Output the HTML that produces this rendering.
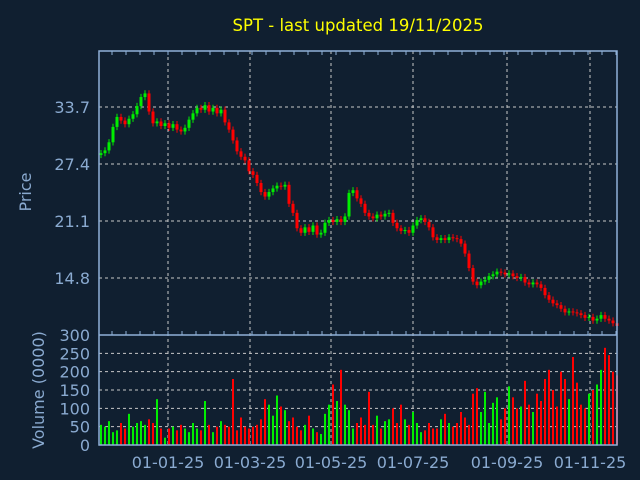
<!DOCTYPE html>
<html><head><meta charset="utf-8"><style>
html,body{margin:0;padding:0;background:#101f30;}
svg{display:block;font-family:"DejaVu Sans","Liberation Sans",sans-serif;}
</style></head><body>
<svg id="chart" width="640" height="480">
<rect x="0" y="0" width="640" height="480" fill="#101f30"/>
<text x="358" y="31" fill="#ffff00" font-size="16.5" text-anchor="middle">SPT - last updated 19/11/2025</text>
<text transform="translate(31,192) rotate(-90)" fill="#8aaad0" font-size="16" text-anchor="middle">Price</text>
<text transform="translate(44,390) rotate(-90)" fill="#8aaad0" font-size="16" text-anchor="middle">Volume (0000)</text>
<g id="grid"></g><g id="marks"></g><g id="axes"></g>
</svg>
<script>
const closes=[28.6,28.9,29.8,31.5,32.6,32.2,31.8,32.4,32.9,33.8,34.8,35.2,33.2,31.9,32.1,31.6,31.9,31.4,31.8,31.2,31.0,31.4,32.3,33.0,33.6,33.4,33.9,33.2,33.6,33.0,33.4,32.0,31.2,30.0,28.8,28.2,27.8,26.6,26.2,25.3,24.3,23.8,24.3,24.7,25.0,24.9,25.1,23.0,22.0,20.3,19.8,20.4,19.9,20.6,19.6,19.8,20.9,21.2,21.0,21.3,21.0,21.6,24.2,24.5,23.6,23.0,22.0,21.6,21.4,21.8,21.6,21.9,22.0,20.9,20.3,20.0,20.1,19.8,20.6,21.2,21.4,21.0,20.4,19.3,19.0,19.2,19.0,19.3,19.2,19.1,18.6,17.5,15.9,14.4,14.0,14.4,14.6,15.0,15.2,15.5,15.4,15.2,15.3,15.0,14.8,14.9,14.3,14.1,14.3,14.1,13.7,12.9,12.4,12.0,11.8,11.4,11.0,11.1,11.0,10.9,10.7,10.4,10.5,10.1,10.3,10.7,10.3,10.1,9.8,9.5];
const volumes=[55,50,65,35,40,60,45,85,50,60,65,55,70,60,125,45,20,45,50,40,55,45,35,60,45,40,120,55,35,50,65,
55,50,180,40,75,50,45,50,55,70,125,110,80,135,105,95,65,75,50,40,55,80,45,35,30,85,110,165,120,205,
110,95,45,60,75,55,145,55,80,45,65,70,100,60,110,70,55,90,60,35,40,60,45,45,70,85,60,50,60,90,
75,55,140,155,90,145,60,115,130,70,100,160,130,100,105,175,110,90,140,120,180,205,150,105,200,180,125,240,170,110,100,140,150,165,205,265,245,200,190];
const priceTicks=[14.8,21.1,27.4,33.7];
const volTicks=[0,50,100,150,200,250,300];
const dateLabels=["01-01-25","01-03-25","01-05-25","01-07-25","01-09-25","01-11-25"];
const dateIdx=[16.75,37.25,57.5,78,101.5,122.25];

const NS="http://www.w3.org/2000/svg";
const L=99,R=617,PT=51,PB=335,VB=445;
const xs=i=>101+i*4;
const py=p=>107+(33.7-p)/6.3*57;
const vy=v=>VB-v/300*(VB-PB);
function mk(tag,attrs,parent){const e=document.createElementNS(NS,tag);for(const k in attrs)e.setAttribute(k,attrs[k]);parent.appendChild(e);return e;}
const grid=document.getElementById('grid'),marks=document.getElementById('marks'),axes=document.getElementById('axes');
const AX="#8fb0d8",TX="#8aaad0",GR="#c8c8c8";

priceTicks.forEach(t=>{
 const g=mk('line',{x1:L,x2:R,y1:py(t),y2:py(t),stroke:GR,'stroke-dasharray':'3,3','stroke-width':1},grid);
 
 
 const tx=mk('text',{x:90,y:py(t)+6,fill:TX,'font-size':16,'text-anchor':'end'},axes);tx.textContent=t.toFixed(1);
 
 
});
volTicks.forEach(t=>{
 if(t>0&&t<300){const g=mk('line',{x1:L,x2:R,y1:vy(t),y2:vy(t),stroke:GR,'stroke-dasharray':'3,3'},grid);
 
 }
 const tx=mk('text',{x:90,y:vy(t)+6,fill:TX,'font-size':16,'text-anchor':'end'},axes);tx.textContent=t;
 
 
});
dateIdx.forEach((d,k)=>{
 const x=xs(d);
 const g=mk('line',{x1:x,x2:x,y1:PT,y2:VB,stroke:GR,'stroke-dasharray':'3,3'},grid);
 
 
 const tx=mk('text',{x:x,y:468,fill:TX,'font-size':16,'text-anchor':'middle'},axes);tx.textContent=dateLabels[k];
 
 
});
for(let x=112;x<R;x+=14){
 mk('line',{x1:x,x2:x,y1:PT,y2:PT+4,stroke:AX},axes);
 mk('line',{x1:x,x2:x,y1:PB,y2:PB-4,stroke:AX},axes);
}
for(let i=0;i<closes.length;i++){
 const c=closes[i],o=i>0?closes[i-1]:c-0.2;
 const up=c>=o,col=up?"#00ee00":"#ff0000";
 const x=xs(i);
 const hi=Math.max(o,c)+0.35,lo=Math.min(o,c)-0.35;
 const w=mk('line',{x1:x,x2:x,y1:py(hi),y2:py(lo),stroke:col},marks);
 
 
 const top=py(Math.max(o,c)),h=Math.max(1,py(Math.min(o,c))-top);
 const b=mk('rect',{x:x-1.5,y:top,width:3,height:h,fill:col},marks);
 
 
 if(i<volumes.length){
  const v=mk('rect',{x:x-1,y:vy(volumes[i]),width:2,height:VB-vy(volumes[i]),fill:col},marks);
  
  
 }
}
const f1=mk('path',{d:`M${L},${PT}H${R}V${VB}H${L}Z M${L},${PB}H${R}`,fill:'none',stroke:AX,'stroke-width':1.5},axes);


</script>
</body></html>
